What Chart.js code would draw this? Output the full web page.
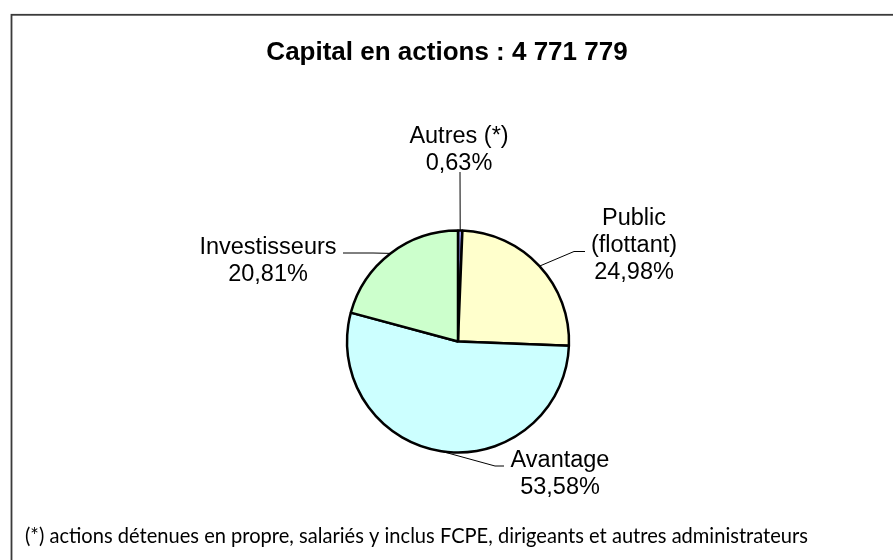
<!DOCTYPE html>
<html>
<head>
<meta charset="utf-8">
<script src="https://cdn.jsdelivr.net/npm/chart.js@4.4.0/dist/chart.umd.min.js"></script>
<style>
  html, body { margin: 0; padding: 0; background: #fff; }
</style>
</head>
<body>
<canvas id="capital" width="893" height="560"></canvas>
<script>
// shareholders, clockwise from 12 o'clock
const categories = ['Autres (*)', 'Public (flottant)', 'Avantage', 'Investisseurs'];
const labelLines = [['Autres (*)'], ['Public', '(flottant)'], ['Avantage'], ['Investisseurs']];
const shares = [0.63, 24.98, 53.58, 20.81];
const sliceColors = ['#9999FF', '#FFFFCC', '#CCFFFF', '#CCFFCC'];

const titleText = 'Capital en actions : 4 771 779';
const footnote = '(*) actions détenues en propre, salariés y inclus FCPE, dirigeants et autres administrateurs';

// where each callout sits: text centre x, first baseline, and leader path back to the slice
const callouts = [
  { x: 459, y: 142.5, path: [[460, 172]] },
  { x: 634, y: 224.5, path: [[574, 251.5], [585, 251.5]] },
  { x: 560, y: 466.5, path: [[495, 466], [504, 466]] },
  { x: 268, y: 254, path: [[373, 253], [343, 253]] }
];

const pct = v => v.toFixed(2).replace('.', ',') + '%';

const decor = {
  id: 'decor',
  beforeDraw(chart) {
    const ctx = chart.ctx;
    ctx.save();
    ctx.fillStyle = '#fff';
    ctx.fillRect(0, 0, chart.width, chart.height);
    // chart frame, runs off the right and bottom edges
    ctx.strokeStyle = '#3a3a3a';
    ctx.lineWidth = 1.8;
    ctx.strokeRect(11.5, 14.8, 1000, 1000);

    ctx.fillStyle = '#000';
    ctx.textAlign = 'center';
    ctx.textBaseline = 'alphabetic';
    ctx.font = 'bold 26px "Liberation Sans", Arial, sans-serif';
    ctx.fillText(titleText, 447, 60);

    // footnote, a touch taller than the fitted width gives, squeezed back to the original line
    ctx.textAlign = 'left';
    ctx.font = '20.5px Lato, "Open Sans", sans-serif';
    const w = ctx.measureText(footnote).width;
    ctx.translate(25, 543);
    ctx.scale(783 / w, 1);
    ctx.fillText(footnote, 0, 0);
    ctx.restore();
  },
  afterDatasetsDraw(chart) {
    const ctx = chart.ctx;
    const arcs = chart.getDatasetMeta(0).data;
    ctx.save();
    ctx.strokeStyle = '#000';
    ctx.lineWidth = 1;
    ctx.fillStyle = '#000';
    ctx.textAlign = 'center';
    ctx.font = '23.5px "Liberation Sans", Arial, sans-serif';
    arcs.forEach((arc, i) => {
      const p = arc.getProps(['x', 'y', 'startAngle', 'endAngle', 'outerRadius'], true);
      const mid = (p.startAngle + p.endAngle) / 2;
      const ax = p.x + Math.cos(mid) * p.outerRadius;
      const ay = p.y + Math.sin(mid) * p.outerRadius;
      const c = callouts[i];
      ctx.beginPath();
      ctx.moveTo(ax, ay);
      c.path.forEach(pt => ctx.lineTo(pt[0], pt[1]));
      ctx.stroke();
      const lines = labelLines[i].concat([pct(shares[i])]);
      lines.forEach((t, k) => ctx.fillText(t, c.x, c.y + k * 27));
    });
    ctx.restore();
  }
};

new Chart(document.getElementById('capital'), {
  type: 'pie',
  data: {
    labels: categories,
    datasets: [{
      data: shares,
      backgroundColor: sliceColors,
      borderColor: '#000',
      borderWidth: 2.5,
      hoverOffset: 0
    }]
  },
  options: {
    responsive: false,
    devicePixelRatio: 1,
    animation: false,
    events: [],
    radius: 111,
    layout: { padding: { left: 23, top: 123, right: 0, bottom: 0 } },
    plugins: {
      legend: { display: false },
      title: { display: false },
      tooltip: { enabled: false }
    }
  },
  plugins: [decor]
});
</script>
</body>
</html>
